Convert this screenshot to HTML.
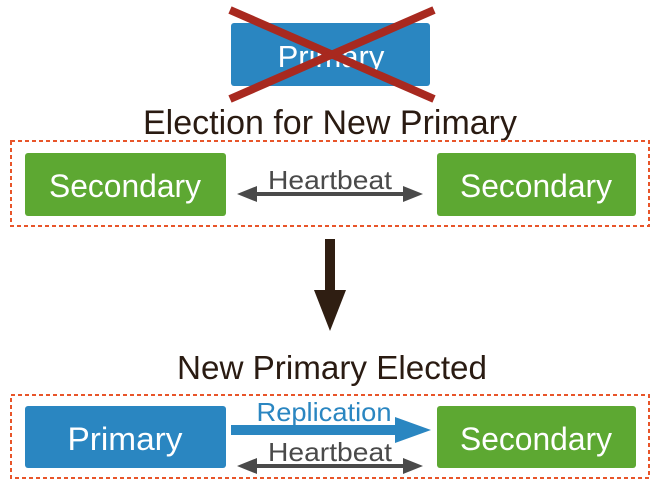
<!DOCTYPE html>
<html><head><style>
html,body{margin:0;padding:0;background:#fff;width:664px;height:486px;overflow:hidden}
</style></head><body>
<svg width="664" height="486" viewBox="0 0 664 486" xmlns="http://www.w3.org/2000/svg" font-family="Liberation Sans, sans-serif">
<rect x="231" y="23" width="199" height="63" rx="3" fill="#2a86c1"/>
<text x="331" y="67" text-anchor="middle" font-size="31" fill="#fff">Primary</text>
<line x1="230" y1="10" x2="434" y2="99" stroke="#a8291f" stroke-width="8"/>
<line x1="434" y1="10" x2="230" y2="99" stroke="#a8291f" stroke-width="8"/>
<text x="330" y="134" text-anchor="middle" font-size="34" fill="#2a1b12" textLength="374" lengthAdjust="spacingAndGlyphs">Election for New Primary</text>
<rect x="11" y="141" width="638" height="85" fill="none" stroke="#e8552a" stroke-width="2" stroke-dasharray="4,3"/>
<rect x="25" y="153" width="201" height="63" rx="3" fill="#5da832"/>
<text x="125" y="197" text-anchor="middle" font-size="32" fill="#fff" textLength="152" lengthAdjust="spacingAndGlyphs">Secondary</text>
<rect x="437" y="153" width="199" height="63" rx="3" fill="#5da832"/>
<text x="536" y="197" text-anchor="middle" font-size="32" fill="#fff" textLength="152" lengthAdjust="spacingAndGlyphs">Secondary</text>
<text x="330" y="189" text-anchor="middle" font-size="26" fill="#4a4a4a" textLength="124" lengthAdjust="spacingAndGlyphs">Heartbeat</text>
<line x1="252" y1="194" x2="408" y2="194" stroke="#4a4a4a" stroke-width="4"/>
<polygon points="237,194 257,186 257,202" fill="#4a4a4a"/>
<polygon points="423,194 403,186 403,202" fill="#4a4a4a"/>
<rect x="325" y="239" width="10" height="52" fill="#2f1e12"/>
<polygon points="314,290 346,290 330,331" fill="#2f1e12"/>
<text x="332" y="379" text-anchor="middle" font-size="33" fill="#2a1b12" textLength="310" lengthAdjust="spacingAndGlyphs">New Primary Elected</text>
<rect x="11" y="395" width="638" height="83" fill="none" stroke="#e8552a" stroke-width="2" stroke-dasharray="4,3"/>
<rect x="25" y="406" width="201" height="62" rx="3" fill="#2a86c1"/>
<text x="125" y="450" text-anchor="middle" font-size="32" fill="#fff" textLength="115" lengthAdjust="spacingAndGlyphs">Primary</text>
<rect x="437" y="406" width="199" height="62" rx="3" fill="#5da832"/>
<text x="536" y="450" text-anchor="middle" font-size="32" fill="#fff" textLength="152" lengthAdjust="spacingAndGlyphs">Secondary</text>
<text x="324" y="421" text-anchor="middle" font-size="26" fill="#2a86c1" textLength="135" lengthAdjust="spacingAndGlyphs">Replication</text>
<rect x="231" y="425" width="166" height="10" fill="#2a86c1"/>
<polygon points="395,417 431,430 395,443" fill="#2a86c1"/>
<text x="330" y="461" text-anchor="middle" font-size="26" fill="#4a4a4a" textLength="124" lengthAdjust="spacingAndGlyphs">Heartbeat</text>
<line x1="252" y1="466" x2="408" y2="466" stroke="#4a4a4a" stroke-width="4"/>
<polygon points="237,466 257,458 257,474" fill="#4a4a4a"/>
<polygon points="423,466 403,458 403,474" fill="#4a4a4a"/>
</svg>
</body></html>
